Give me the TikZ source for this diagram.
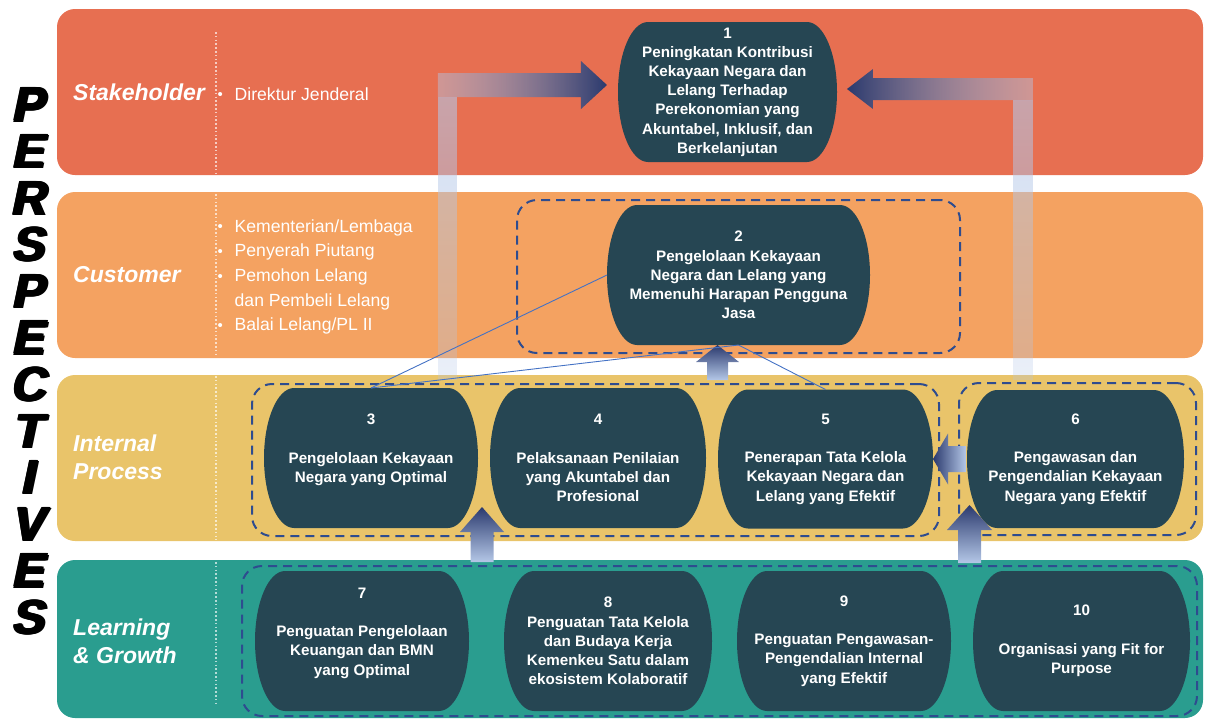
\documentclass[tikz,border=0pt]{standalone}
\usepackage{fontspec}
\setmainfont{Liberation Sans}
\newfontfamily\persfont{Liberation Sans}[UprightFont=* Bold, UprightFeatures={FakeSlant=0.21}]
\newfontfamily\labfont{Liberation Sans}
\usepackage{tikz}
\usetikzlibrary{calc,fadings}
\definecolor{stakecol}{HTML}{E76F51}
\definecolor{custcol}{HTML}{F4A261}
\definecolor{intcol}{HTML}{E9C46A}
\definecolor{learncol}{HTML}{2A9D8F}
\definecolor{objcol}{HTML}{264653}
\definecolor{dashcol}{HTML}{2E4C8F}
\definecolor{linkcol}{HTML}{4472C4}
\definecolor{arrlight}{HTML}{B4C7E7}
\definecolor{arrnavy}{HTML}{2B3A6E}
\tikzfading[name=fadeleft, left color=transparent!55, right color=transparent!0]
\tikzfading[name=faderight, left color=transparent!0, right color=transparent!55]
\tikzfading[name=fadedown, top color=transparent!40, bottom color=transparent!72]
\pgfdeclarelayer{back}
\pgfdeclarelayer{shapes}
\pgfsetlayers{back,shapes,main}
\newcommand{\bul}{\makebox[17.5pt][l]{\hspace{0.5pt}\raisebox{0.5pt}{\fontsize{15}{15}\selectfont •}}}
\newcommand{\nobul}{\makebox[17.5pt][l]{}}
% heavier letters: overlay shifted copies
\newcommand{\heavy}[1]{\makebox[0pt][l]{#1}\makebox[0pt][l]{\kern1pt#1}\makebox[0pt][l]{\kern2pt#1}%
  \makebox[0pt][l]{\raisebox{1.2pt}{#1}}\makebox[0pt][l]{\kern1pt\raisebox{1.2pt}{#1}}\makebox[0pt][l]{\kern2pt\raisebox{1.2pt}{#1}}\kern3pt#1}

\begin{document}
\begin{tikzpicture}[x=1pt,y=-1pt,
  band/.style={rounded corners=18pt, minimum width=1146pt, inner sep=0pt},
  bandlabel/.style={text=white, font=\labfont\bfseries\itshape\fontsize{23}{28}\selectfont, align=left, inner sep=0pt},
  bullets/.style={text=white, font=\fontsize{17.6}{24.7}\selectfont, align=left, inner sep=0pt},
  divider/.style={white, opacity=0.65, line width=1.3pt, dash pattern=on 1.6pt off 2.2pt},
  perslet/.style={font=\persfont\fontsize{48}{48}\selectfont, inner sep=0pt},
  objective/.style={text=white, font=\bfseries\fontsize{15.2}{19.2}\selectfont, align=center, inner sep=0pt, outer sep=0pt},
  group/.style={draw=dashcol, line width=2pt, dash pattern=on 9pt off 6pt, rounded corners=20pt, inner sep=0pt},
  link/.style={draw=linkcol, line width=0.9pt},
  blockup/.style={bottom color=arrlight, middle color=arrlight, top color=arrnavy},
  blockleft/.style={left color=arrnavy, middle color=arrlight, right color=arrlight}]
\useasboundingbox (0,0) rectangle (1205,721);

% bands
\begin{pgfonlayer}{back}
  \node[band, fill=stakecol, minimum height=166pt] (stake) at (630,92) {};
  \node[band, fill=custcol, minimum height=166pt] (cust) at (630,275) {};
  \node[band, fill=intcol, minimum height=166pt] (intern) at (630,458) {};
  \node[band, fill=learncol, minimum height=158pt] (learn) at (630,639) {};
  \draw[divider] (216,32) -- (216,175);
  \draw[divider] (216,194) -- (216,357);
  \draw[divider] (216,376) -- (216,540);
  \draw[divider] (216,562) -- (216,703);
\end{pgfonlayer}

\foreach \c [count=\i] in {P,E,R,S,P,E,C,T,I,V,E,S}
  \node[perslet] (per\i) at (28,{105+46.6*(\i-1)}) {\heavy{\c}};

\node[bandlabel, anchor=west] (lstake) at (73,92) {Stakeholder};
\node[bandlabel, anchor=west] (lcust) at (73,275) {Customer};
\node[bandlabel, anchor=west] (lint) at (73,457) {Internal\\Process};
\node[bandlabel, anchor=west] (llearn) at (73,641) {Learning\\\& Growth};

\node[bullets, anchor=west] (bstake) at (217,94) {\bul Direktur Jenderal};
\node[bullets, anchor=west] (bcust) at (217,277) {\bul Kementerian/Lembaga\\\bul Penyerah Piutang\\\bul Pemohon Lelang\\\nobul dan Pembeli Lelang\\\bul Balai Lelang/PL II};

% objectives
\begin{scope}[every node/.style={objective}]
  \node[minimum width=219pt, minimum height=140pt] (o1) at (727.5,92) {1\\Peningkatan Kontribusi\\Kekayaan Negara dan\\Lelang Terhadap\\Perekonomian yang\\Akuntabel, Inklusif, dan\\Berkelanjutan};
  \node[minimum width=263pt, minimum height=140pt] (o2) at (738.5,275) {2\\Pengelolaan Kekayaan\\Negara dan Lelang yang\\Memenuhi Harapan Pengguna\\Jasa};
  \node[minimum width=214pt, minimum height=140pt] (o3) at (371,458) {3\\~\\Pengelolaan Kekayaan\\Negara yang Optimal\\~};
  \node[minimum width=216pt, minimum height=140pt] (o4) at (598,458) {4\\~\\Pelaksanaan Penilaian\\yang Akuntabel dan\\Profesional};
  \node[minimum width=215pt, minimum height=139pt] (o5) at (825.5,459) {5\\~\\Penerapan Tata Kelola\\Kekayaan Negara dan\\Lelang yang Efektif};
  \node[minimum width=217pt, minimum height=138pt] (o6) at (1075.5,459) {6\\~\\Pengawasan dan\\Pengendalian Kekayaan\\Negara yang Efektif};
  \node[minimum width=214pt, minimum height=140pt] (o7) at (362,641) {7\\~\\Penguatan Pengelolaan\\Keuangan dan BMN\\yang Optimal\\~};
  \node[minimum width=208pt, minimum height=140pt] (o8) at (608,641) {8\\Penguatan Tata Kelola\\dan Budaya Kerja\\Kemenkeu Satu dalam\\ekosistem Kolaboratif};
  \node[minimum width=214pt, minimum height=140pt] (o9) at (844,641) {9\\~\\Penguatan Pengawasan-\\Pengendalian Internal\\yang Efektif};
  \node[minimum width=217pt, minimum height=140pt] (o10) at (1081.5,641) {10\\~\\Organisasi yang Fit for\\Purpose};
\end{scope}

\begin{pgfonlayer}{shapes}
  \foreach \nm in {o1,o2,o3,o4,o5,o6,o7,o8,o9,o10}
    \fill[objcol] let \p1=(\nm.north west), \p2=(\nm.south east), \n1={(\y1-\y2)/2} in
      (\x1+30pt,\y1) -- (\x2-30pt,\y1) arc[start angle=90, end angle=-90, x radius=30pt, y radius=\n1]
      -- (\x1+30pt,\y2) arc[start angle=270, end angle=90, x radius=30pt, y radius=\n1] -- cycle;
\end{pgfonlayer}

% dashed groups
\node[group, minimum width=443pt, minimum height=153pt] (g2) at (738.5,276.5) {};
\node[group, minimum width=687pt, minimum height=152pt] (g35) at (595.5,460) {};
\node[group, minimum width=237pt, minimum height=152pt] (g6) at (1077.5,459) {};
\node[group, minimum width=955pt, minimum height=150pt] (g710) at (719.5,641) {};

% big arrows to 1
\coordinate (ltip) at ($(o1.west)+(-11,-7)$);
\coordinate (rtip) at ($(o1.east)+(10,-3)$);
\fill[arrlight, path fading=fadedown] (438,97) rectangle (457,380);
\fill[arrlight, path fading=fadedown] (1013,100) rectangle (1033,380);
\shade[left color=arrlight, right color=arrnavy, path fading=fadeleft]
  (ltip) -- ++(-26,-24) -- ++(0,12) -- ++(-143,0) -- ++(0,24) -- ++(143,0) -- ++(0,12) -- cycle;
\shade[left color=arrnavy, right color=arrlight, path fading=faderight]
  (rtip) -- ++(26,-20) -- ++(0,9) -- ++(160,0) -- ++(0,22) -- ++(-160,0) -- ++(0,9) -- cycle;

% small arrows
\coordinate (t2) at ($(o2.south)+(-21,0)$);
\coordinate (t34) at (482,507);
\coordinate (t6) at (969.5,505);
\coordinate (t65) at ($(o5.east)+(0,0)$);
\shade[blockup] (t2) -- ++(21.5,17) -- ++(-11,0) -- ++(0,18) -- ++(-21,0) -- ++(0,-18) -- ++(-11,0) -- cycle;
\shade[blockup] (t34) -- ++(22,25) -- ++(-10.5,0) -- ++(0,30) -- ++(-23,0) -- ++(0,-30) -- ++(-10.5,0) -- cycle;
\shade[blockup] (t6) -- ++(22.5,25) -- ++(-11,0) -- ++(0,33) -- ++(-23,0) -- ++(0,-33) -- ++(-11,0) -- cycle;
\shade[blockleft] (t65) -- ++(15,-25.5) -- ++(0,12.5) -- ++(18,0) -- ++(0,26) -- ++(-18,0) -- ++(0,12.5) -- cycle;

% links
\path[link] (o3.north) edge (o2.west);
\path[link] (o3.north) edge (o2.south);
\path[link] (o5.north) edge (o2.south);
\end{tikzpicture}
\end{document}
